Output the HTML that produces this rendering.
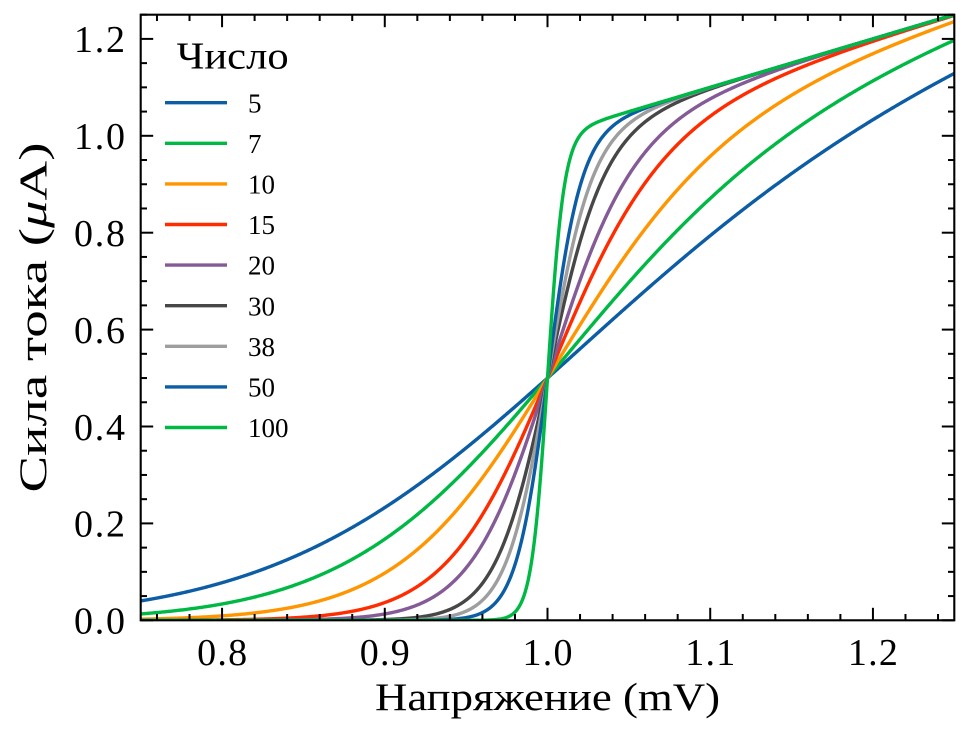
<!DOCTYPE html>
<html>
<head>
<meta charset="utf-8">
<style>
  html, body { margin: 0; padding: 0; background: #ffffff; }
  svg { display: block; }
  text { font-family: "Liberation Serif", "DejaVu Serif", serif; fill: #000; }
</style>
</head>
<body>
<svg id="chart" width="969" height="746" viewBox="0 0 969 746" xmlns="http://www.w3.org/2000/svg">
  <defs>
    <clipPath id="plotclip">
      <rect x="140.7" y="14.7" width="813.6" height="605.6"/>
    </clipPath>
  </defs>
  <rect x="0" y="0" width="969" height="746" fill="#ffffff"/>
  <g id="curves" clip-path="url(#plotclip)" fill="none" stroke-width="3.4" stroke-linejoin="round" stroke-linecap="butt"></g>
  <g id="ticks" stroke="#000" stroke-width="2"></g>
  <rect x="140.7" y="14.7" width="813.6" height="605.6" fill="none" stroke="#000" stroke-width="2.1"/>

  <!-- x tick labels -->
  <g font-size="38" text-anchor="middle">
    <text x="222.1" y="665" textLength="50">0.8</text>
    <text x="384.8" y="665" textLength="50">0.9</text>
    <text x="547.5" y="665" textLength="50">1.0</text>
    <text x="710.2" y="665" textLength="50">1.1</text>
    <text x="872.9" y="665" textLength="50">1.2</text>
  </g>
  <!-- y tick labels -->
  <g font-size="38" text-anchor="end">
    <text x="125" y="633.6" textLength="51">0.0</text>
    <text x="125" y="536.7" textLength="51">0.2</text>
    <text x="125" y="439.8" textLength="51">0.4</text>
    <text x="125" y="342.9" textLength="51">0.6</text>
    <text x="125" y="246.0" textLength="51">0.8</text>
    <text x="125" y="149.1" textLength="51">1.0</text>
    <text x="125" y="52.2" textLength="51">1.2</text>
  </g>
  <!-- axis labels -->
  <text x="547.5" y="710" font-size="39" text-anchor="middle" textLength="345" lengthAdjust="spacingAndGlyphs">Напряжение (mV)</text>
  <text transform="translate(46,317.5) rotate(-90)" x="0" y="0" font-size="39" text-anchor="middle" textLength="350" lengthAdjust="spacingAndGlyphs">Сила тока (<tspan font-style="italic">μ</tspan>A)</text>

  <!-- legend -->
  <text x="176.7" y="68.3" font-size="38" textLength="112" lengthAdjust="spacingAndGlyphs">Число</text>
  <g id="legend" font-size="27"></g>
</svg>
<script>
(function(){
  var NS = "http://www.w3.org/2000/svg";
  function X(x){ return 140.7 + (x - 0.75) * 1627.2; }
  function Y(y){ return 620.3 - y * 484.5; }
  var ps = [5,7,10,15,20,30,38,50,100];
  var cols = ["#0C5DA5","#00B945","#FF9500","#FF2C00","#845B97","#474747","#9e9e9e","#0C5DA5","#00B945"];
  var cg = document.getElementById("curves");
  for (var i=0;i<ps.length;i++){
    var p = ps[i], d = "";
    for (var k=0;k<=800;k++){
      var x = 0.75 + 0.5*k/800;
      var x2p = Math.pow(x, 2*p);
      var y = x*x2p/(1+x2p);
      d += (k===0?"M":"L") + X(x).toFixed(2) + "," + Y(y).toFixed(2);
    }
    var path = document.createElementNS(NS,"path");
    path.setAttribute("d", d);
    path.setAttribute("stroke", cols[i]);
    cg.appendChild(path);
  }
  var tg = document.getElementById("ticks");
  function line(x1,y1,x2,y2){
    var l = document.createElementNS(NS,"line");
    l.setAttribute("x1",x1);l.setAttribute("y1",y1);l.setAttribute("x2",x2);l.setAttribute("y2",y2);
    tg.appendChild(l);
  }
  var top = 14.7, bot = 620.3, left = 140.7, right = 954.3;
  // x ticks
  for (var j=38;j<=62;j++){
    var xv = j*0.02;
    var xp = X(xv);
    var major = (j % 5 === 0);
    var L = major ? 12.5 : 6.3;
    line(xp, bot, xp, bot - L);
    line(xp, top, xp, top + L);
  }
  // y ticks
  for (var m=0;m<=25;m++){
    var yv = m*0.05;
    var yp = Y(yv);
    var majorY = (m % 4 === 0);
    var Ly = majorY ? 12.5 : 6.3;
    line(left, yp, left + Ly, yp);
    line(right, yp, right - Ly, yp);
  }
  // legend
  var lg = document.getElementById("legend");
  for (var n=0;n<ps.length;n++){
    var ry = 102.7 + n*40.6;
    var ll = document.createElementNS(NS,"line");
    ll.setAttribute("x1",165);ll.setAttribute("x2",227);
    ll.setAttribute("y1",ry);ll.setAttribute("y2",ry);
    ll.setAttribute("stroke",cols[n]);ll.setAttribute("stroke-width","3.4");
    lg.appendChild(ll);
    var t = document.createElementNS(NS,"text");
    t.setAttribute("x",248);t.setAttribute("y",(ry+9.6).toFixed(1));
    t.textContent = String(ps[n]);
    lg.appendChild(t);
  }
})();
</script>
</body>
</html>
